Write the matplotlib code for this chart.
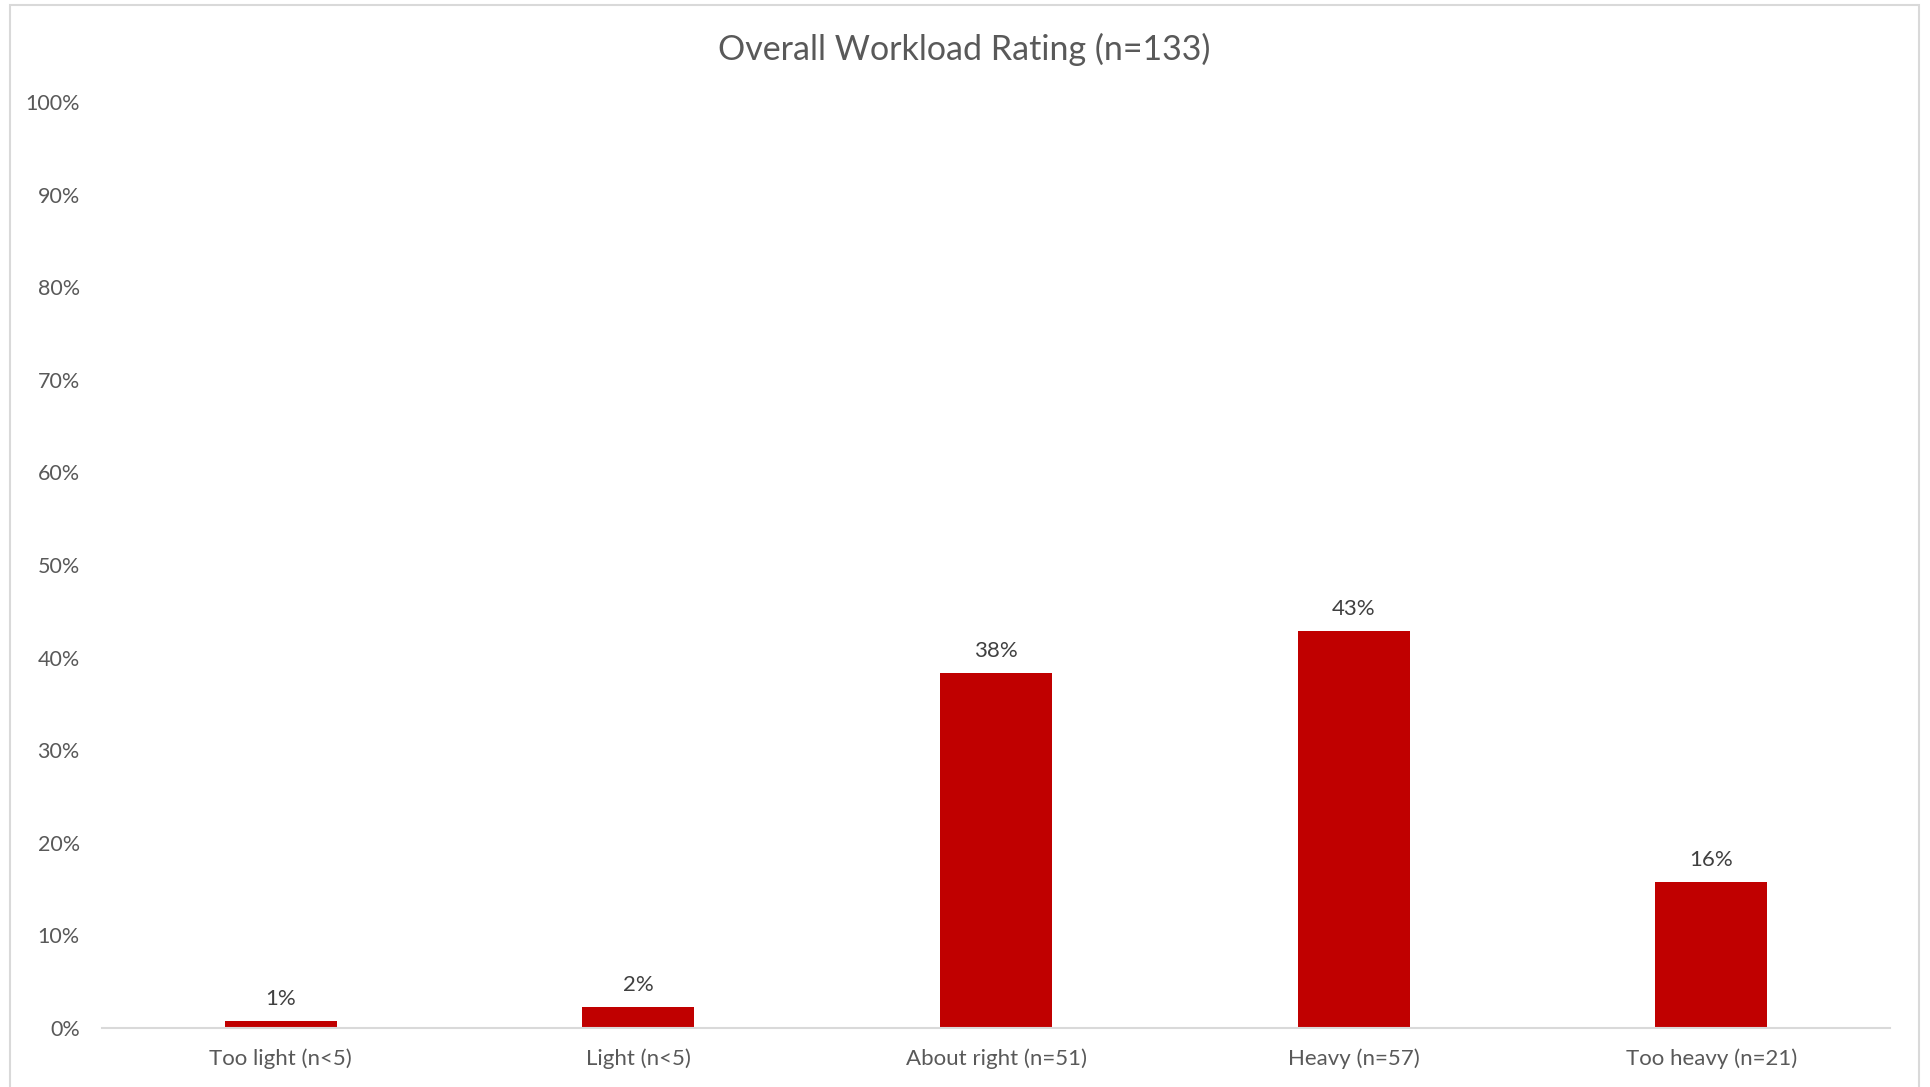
import matplotlib.pyplot as plt
from matplotlib.patches import Rectangle
from matplotlib.ticker import PercentFormatter

categories = ["Too light (n<5)", "Light (n<5)", "About right (n=51)", "Heavy (n=57)", "Too heavy (n=21)"]
shares = [0.75, 2.26, 38.3, 42.9, 15.8]
bar_labels = ["1%", "2%", "38%", "43%", "16%"]
yticks = [0, 10, 20, 30, 40, 50, 60, 70, 80, 90, 100]

TEXT = '#595959'
plt.rcParams['font.family'] = ['Lato', 'DejaVu Sans']

fig = plt.figure(figsize=(19.31, 10.87), dpi=100)
# light outline of the chart area
fig.patches.append(Rectangle((10 / 1931, -0.05), 1909 / 1931, 1.05 - 5 / 1087,
                             transform=fig.transFigure, fill=False,
                             edgecolor='#d9d9d9', linewidth=1.5))

ax = fig.add_axes([0.0528, 0.0543, 0.926, 0.8519])
x = range(len(categories))
ax.bar(x, shares, width=0.313, color='#c00000')
for xi, v, lab in zip(x, shares, bar_labels):
    ax.text(xi, v + 1.3, lab, ha='center', va='bottom', fontsize=16, color='#404040')

ax.set_xlim(-0.5, len(categories) - 0.5)
ax.set_ylim(0, 100)
ax.set_yticks(yticks)
ax.yaxis.set_major_formatter(PercentFormatter(decimals=0))
ax.set_xticks(list(x))
ax.set_xticklabels(categories)
ax.tick_params(axis='y', length=0, pad=16, labelsize=15.5, labelcolor=TEXT)
ax.tick_params(axis='x', length=0, pad=15, labelsize=16, labelcolor=TEXT)

for s in ['top', 'right', 'left']:
    ax.spines[s].set_visible(False)
ax.spines['bottom'].set_color('#d9d9d9')
ax.spines['bottom'].set_linewidth(1.5)

fig.text(964 / 1931, 1 - 49 / 1087, "Overall Workload Rating (n=133)", ha='center', va='center',
         fontsize=24.5, color=TEXT)

fig.savefig('out.png', dpi=100)
